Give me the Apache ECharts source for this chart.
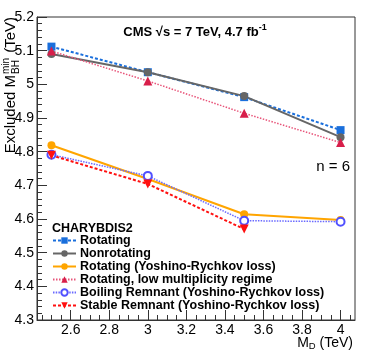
<!DOCTYPE html>
<html>
<head>
<meta charset="utf-8">
<script src="https://cdn.jsdelivr.net/npm/echarts@6/dist/echarts.min.js"></script>
<style>html,body{margin:0;padding:0;background:#fff}#c{width:374px;height:355px}</style>
</head>
<body>
<div id="c"></div>
<script>
const md = [2.5, 3.0, 3.5, 4.0];
const rotating = [5.112, 5.036, 4.962, 4.864];
const nonrotating = [5.090, 5.036, 4.965, 4.843];
const rotatingYR = [4.819, 4.719, 4.614, 4.597];
const lowMult = [5.099, 5.010, 4.914, 4.827];
const boilingYR = [4.791, 4.728, 4.595, 4.592];
const stableYR = [4.789, 4.704, 4.570];
const xMajorTicks = [2.6, 2.8, 3.0, 3.2, 3.4, 3.6, 3.8, 4.0];
const xMinorTicks = [2.45, 2.5, 2.55, 2.65, 2.7, 2.75, 2.85, 2.9, 2.95, 3.05, 3.1, 3.15, 3.25, 3.3, 3.35, 3.45, 3.5, 3.55, 3.65, 3.7, 3.75, 3.85, 3.9, 3.95, 4.05];
const seriesNames = ['Rotating', 'Nonrotating', 'Rotating (Yoshino-Rychkov loss)', 'Rotating, low multiplicity regime', 'Boiling Remnant (Yoshino-Rychkov loss)', 'Stable Remnant (Yoshino-Rychkov loss)'];

const FONT = '"Liberation Sans", Arial, Helvetica, sans-serif';
const AX = '#333';
const pairs = (ys) => ys.map((v, i) => [md[i], v]);

const chart = echarts.init(document.getElementById('c'), null, {renderer: 'canvas'});
const mk = (name, data, color, lineColor, type, width, symbol, size, extra) => Object.assign({
  name, type: 'line', data: pairs(data), symbol, symbolSize: size,
  lineStyle: {color: lineColor, type, width},
  itemStyle: {color},
  animation: false
}, extra || {});

const R = Math.PI / 2;
chart.setOption({
  animation: false,
  grid: {left: 37, right: 19, top: 17, bottom: 35, show: true, borderColor: AX, borderWidth: 1, backgroundColor: 'transparent'},
  xAxis: [{
    type: 'value', min: 2.425, max: 4.075,
    axisLine: {show: true, lineStyle: {color: AX, width: 1}},
    axisTick: {show: true, inside: true, length: 10, customValues: xMajorTicks, lineStyle: {color: AX}},
    axisLabel: {customValues: xMajorTicks, color: '#000', fontSize: 14, fontFamily: FONT, margin: 3},
    splitLine: {show: false}
  }, {
    type: 'value', min: 2.425, max: 4.075, position: 'bottom',
    axisLine: {show: false},
    axisTick: {show: true, inside: true, length: 5, customValues: xMinorTicks, lineStyle: {color: AX}},
    axisLabel: {show: false},
    splitLine: {show: false}
  }],
  yAxis: {
    type: 'value', min: 4.3, max: 5.2, interval: 0.1,
    axisLine: {show: true, lineStyle: {color: AX, width: 1}},
    axisTick: {show: true, inside: true, length: 10, lineStyle: {color: AX}},
    minorTick: {show: true, splitNumber: 5, length: 5, lineStyle: {color: AX}},
    axisLabel: {color: '#000', fontSize: 14, fontFamily: FONT, margin: 3},
    splitLine: {show: false}
  },
  legend: {
    orient: 'vertical', left: 52, top: 234, padding: 0,
    itemWidth: 23, itemHeight: 8, itemGap: 0,
    textStyle: {fontSize: 12.5, fontWeight: 'bold', fontFamily: FONT, color: '#000', lineHeight: 12.2, padding: [0, 0, 0, -1]},
    data: seriesNames
  },
  series: [
    mk(seriesNames[0], rotating, '#1a6fdc', '#1a6fdc', [3, 2], 2, 'rect', 8),
    mk(seriesNames[1], nonrotating, '#666666', '#666666', 'solid', 2, 'circle', 8),
    mk(seriesNames[2], rotatingYR, '#ffa500', '#ffa500', 'solid', 2, 'circle', 8),
    mk(seriesNames[3], lowMult, '#d81e4a', '#e8557a', [1.5, 1.5], 1.5, 'triangle', 9),
    mk(seriesNames[4], boilingYR, '#5050ff', '#6a6aff', [1.5, 1.2], 1.5, 'emptyCircle', 8, {itemStyle: {color: '#5050ff', borderWidth: 1.2}}),
    mk(seriesNames[5], stableYR, '#ff1010', '#ff1010', [3, 2], 2, 'triangle', 9, {symbolRotate: 180})
  ],
  graphic: [
    {type: 'text', x: 195, y: 31, style: {
      text: '{b|CMS √s = 7 TeV, 4.7 fb}{s|-1}', fill: '#000', align: 'center', verticalAlign: 'middle',
      rich: {b: {fontSize: 13, fontWeight: 'bold', fontFamily: FONT, verticalAlign: 'bottom'},
             s: {fontSize: 9, fontWeight: 'bold', fontFamily: FONT, verticalAlign: 'top', padding: [0, 0, 6, 0]}}
    }},
    {type: 'text', x: 52, y: 229, style: {text: 'CHARYBDIS2', font: 'bold 12.5px ' + FONT, fill: '#000', verticalAlign: 'middle'}},
    {type: 'text', x: 350, y: 167, style: {text: 'n = 6', font: '15px ' + FONT, fill: '#000', align: 'right', verticalAlign: 'middle'}},
    {type: 'text', x: 353, y: 343, style: {
      text: '{a|M}{d|D}{a| (TeV)}', align: 'right', verticalAlign: 'middle', fill: '#000',
      rich: {a: {fontSize: 14, fontFamily: FONT}, d: {fontSize: 9.5, fontFamily: FONT, padding: [6, 0, 0, 0]}}
    }},
    {type: 'text', x: 11, y: 17, rotation: R, style: {text: '(TeV)', font: '15px ' + FONT, fill: '#000', align: 'right', verticalAlign: 'middle'}},
    {type: 'text', x: 11, y: 75, rotation: R, style: {text: 'Excluded M', font: '15px ' + FONT, fill: '#000', align: 'right', verticalAlign: 'middle'}},
    {type: 'text', x: 16, y: 74, rotation: R, style: {text: 'BH', font: '10px ' + FONT, fill: '#000', align: 'left', verticalAlign: 'middle'}},
    {type: 'text', x: 6, y: 74, rotation: R, style: {text: 'min', font: '10px ' + FONT, fill: '#000', align: 'left', verticalAlign: 'middle'}}
  ]
});
</script>
</body>
</html>
